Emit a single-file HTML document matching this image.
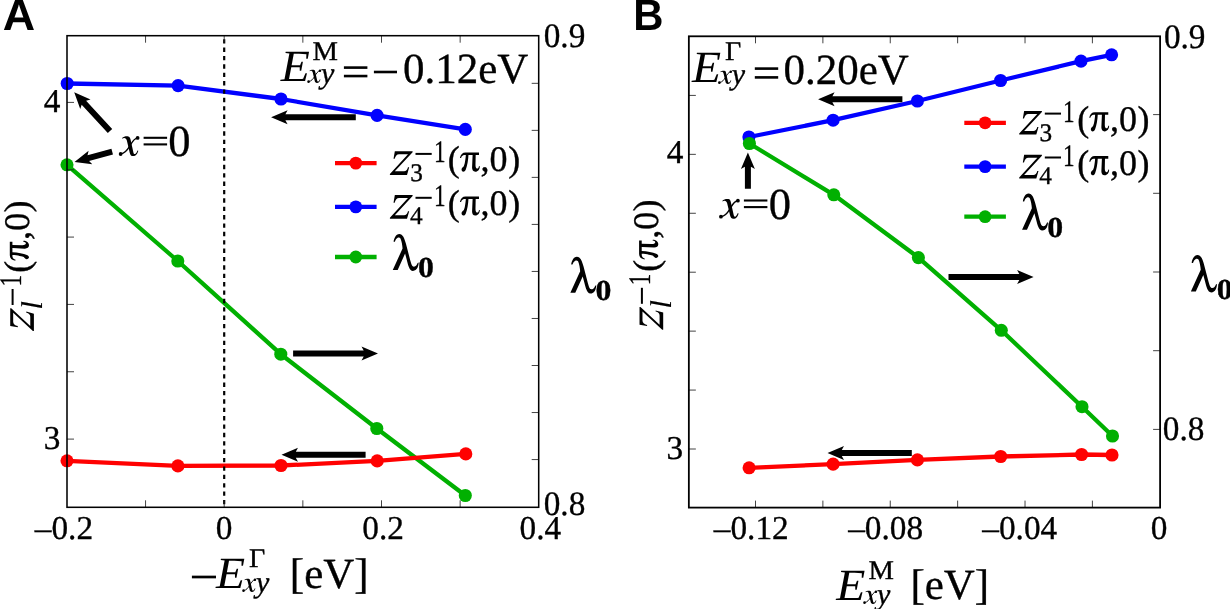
<!DOCTYPE html>
<html><head><meta charset="utf-8"><title>Figure</title>
<style>
html,body{margin:0;padding:0;background:#fff;}
body{width:1230px;height:609px;overflow:hidden;font-family:"Liberation Serif",serif;}
svg{display:block;}
text{fill:#000;stroke:#000;stroke-width:0.35px;text-rendering:geometricPrecision;}
</style></head><body>
<svg width="1230" height="609" viewBox="0 0 1230 609">
<rect x="0" y="0" width="1230" height="609" fill="#fff"/>
<g opacity="0.999">
<polyline points="67.0,164.8 177.8,261.0 280.8,354.2 376.8,428.5 465.3,495.5" fill="none" stroke="#00b000" stroke-width="4.3" stroke-linejoin="round"/>
<circle cx="67.0" cy="164.8" r="6.55" fill="#00b000"/>
<circle cx="177.8" cy="261.0" r="6.55" fill="#00b000"/>
<circle cx="280.8" cy="354.2" r="6.55" fill="#00b000"/>
<circle cx="376.8" cy="428.5" r="6.55" fill="#00b000"/>
<circle cx="465.3" cy="495.5" r="6.55" fill="#00b000"/>
<polyline points="67.0,460.8 177.9,465.9 281.0,465.5 377.2,460.9 465.8,453.9" fill="none" stroke="#ff0000" stroke-width="4.3" stroke-linejoin="round"/>
<circle cx="67.0" cy="460.8" r="6.55" fill="#ff0000"/>
<circle cx="177.9" cy="465.9" r="6.55" fill="#ff0000"/>
<circle cx="281.0" cy="465.5" r="6.55" fill="#ff0000"/>
<circle cx="377.2" cy="460.9" r="6.55" fill="#ff0000"/>
<circle cx="465.8" cy="453.9" r="6.55" fill="#ff0000"/>
<polyline points="67.2,83.5 178.1,85.6 281.0,99.0 377.1,115.4 465.3,129.4" fill="none" stroke="#0000ff" stroke-width="4.3" stroke-linejoin="round"/>
<circle cx="67.2" cy="83.5" r="6.55" fill="#0000ff"/>
<circle cx="178.1" cy="85.6" r="6.55" fill="#0000ff"/>
<circle cx="281.0" cy="99.0" r="6.55" fill="#0000ff"/>
<circle cx="377.1" cy="115.4" r="6.55" fill="#0000ff"/>
<circle cx="465.3" cy="129.4" r="6.55" fill="#0000ff"/>
<line x1="224.20" y1="35.70" x2="224.20" y2="507.30" stroke="#000" stroke-width="2.2" stroke-dasharray="4.3 4.076" stroke-dashoffset="4.876"/>
<line x1="145.55" y1="507.30" x2="145.55" y2="500.30" stroke="#222" stroke-width="0.85" />
<line x1="145.55" y1="35.70" x2="145.55" y2="42.70" stroke="#222" stroke-width="0.85" />
<line x1="224.20" y1="507.30" x2="224.20" y2="500.30" stroke="#222" stroke-width="0.85" />
<line x1="224.20" y1="35.70" x2="224.20" y2="42.70" stroke="#222" stroke-width="0.85" />
<line x1="302.85" y1="507.30" x2="302.85" y2="500.30" stroke="#222" stroke-width="0.85" />
<line x1="302.85" y1="35.70" x2="302.85" y2="42.70" stroke="#222" stroke-width="0.85" />
<line x1="381.50" y1="507.30" x2="381.50" y2="500.30" stroke="#222" stroke-width="0.85" />
<line x1="381.50" y1="35.70" x2="381.50" y2="42.70" stroke="#222" stroke-width="0.85" />
<line x1="460.15" y1="507.30" x2="460.15" y2="500.30" stroke="#222" stroke-width="0.85" />
<line x1="460.15" y1="35.70" x2="460.15" y2="42.70" stroke="#222" stroke-width="0.85" />
<line x1="67.00" y1="102.40" x2="74.00" y2="102.40" stroke="#222" stroke-width="0.85" />
<line x1="67.00" y1="169.74" x2="74.00" y2="169.74" stroke="#222" stroke-width="0.85" />
<line x1="67.00" y1="237.08" x2="74.00" y2="237.08" stroke="#222" stroke-width="0.85" />
<line x1="67.00" y1="304.42" x2="74.00" y2="304.42" stroke="#222" stroke-width="0.85" />
<line x1="67.00" y1="371.76" x2="74.00" y2="371.76" stroke="#222" stroke-width="0.85" />
<line x1="67.00" y1="439.10" x2="74.00" y2="439.10" stroke="#222" stroke-width="0.85" />
<line x1="538.70" y1="83.33" x2="531.70" y2="83.33" stroke="#222" stroke-width="0.85" />
<line x1="538.70" y1="130.36" x2="531.70" y2="130.36" stroke="#222" stroke-width="0.85" />
<line x1="538.70" y1="177.39" x2="531.70" y2="177.39" stroke="#222" stroke-width="0.85" />
<line x1="538.70" y1="224.42" x2="531.70" y2="224.42" stroke="#222" stroke-width="0.85" />
<line x1="538.70" y1="271.45" x2="531.70" y2="271.45" stroke="#222" stroke-width="0.85" />
<line x1="538.70" y1="318.48" x2="531.70" y2="318.48" stroke="#222" stroke-width="0.85" />
<line x1="538.70" y1="365.51" x2="531.70" y2="365.51" stroke="#222" stroke-width="0.85" />
<line x1="538.70" y1="412.54" x2="531.70" y2="412.54" stroke="#222" stroke-width="0.85" />
<line x1="538.70" y1="459.57" x2="531.70" y2="459.57" stroke="#222" stroke-width="0.85" />
<rect x="67.0" y="35.7" width="471.70" height="471.60" fill="none" stroke="#000" stroke-opacity="1" stroke-width="1.55"/>
<polygon points="355.80,114.20 285.40,114.20 287.60,110.20 271.10,117.20 287.60,124.20 285.40,120.20 355.80,120.20" fill="#000"/>
<polygon points="293.10,356.60 363.70,356.60 361.50,360.60 378.00,353.60 361.50,346.60 363.70,350.60 293.10,350.60" fill="#000"/>
<polygon points="365.60,451.80 295.80,451.80 298.00,447.80 281.50,454.80 298.00,461.80 295.80,457.80 365.60,457.80" fill="#000"/>
<polygon points="112.20,128.97 86.10,100.68 90.53,99.58 74.20,92.20 80.24,109.07 81.69,104.74 107.80,133.03" fill="#000"/>
<polygon points="111.42,148.80 87.52,155.27 88.60,150.83 74.50,161.90 92.26,164.35 89.09,161.06 112.98,154.60" fill="#000"/>
<polyline points="749.1,467.8 833.1,464.1 917.4,459.9 1000.7,456.5 1081.6,454.5 1112.0,455.0" fill="none" stroke="#ff0000" stroke-width="4.3" stroke-linejoin="round"/>
<circle cx="749.1" cy="467.8" r="6.55" fill="#ff0000"/>
<circle cx="833.1" cy="464.1" r="6.55" fill="#ff0000"/>
<circle cx="917.4" cy="459.9" r="6.55" fill="#ff0000"/>
<circle cx="1000.7" cy="456.5" r="6.55" fill="#ff0000"/>
<circle cx="1081.6" cy="454.5" r="6.55" fill="#ff0000"/>
<circle cx="1112.0" cy="455.0" r="6.55" fill="#ff0000"/>
<polyline points="748.9,137.0 833.1,120.2 917.4,101.0 1000.6,80.5 1081.0,61.1 1111.6,54.8" fill="none" stroke="#0000ff" stroke-width="4.3" stroke-linejoin="round"/>
<circle cx="748.9" cy="137.0" r="6.55" fill="#0000ff"/>
<circle cx="833.1" cy="120.2" r="6.55" fill="#0000ff"/>
<circle cx="917.4" cy="101.0" r="6.55" fill="#0000ff"/>
<circle cx="1000.6" cy="80.5" r="6.55" fill="#0000ff"/>
<circle cx="1081.0" cy="61.1" r="6.55" fill="#0000ff"/>
<circle cx="1111.6" cy="54.8" r="6.55" fill="#0000ff"/>
<polyline points="749.4,143.5 833.8,194.8 918.4,257.6 1001.3,330.3 1082.0,406.7 1112.5,436.0" fill="none" stroke="#00b000" stroke-width="4.3" stroke-linejoin="round"/>
<circle cx="749.4" cy="143.5" r="6.55" fill="#00b000"/>
<circle cx="833.8" cy="194.8" r="6.55" fill="#00b000"/>
<circle cx="918.4" cy="257.6" r="6.55" fill="#00b000"/>
<circle cx="1001.3" cy="330.3" r="6.55" fill="#00b000"/>
<circle cx="1082.0" cy="406.7" r="6.55" fill="#00b000"/>
<circle cx="1112.5" cy="436.0" r="6.55" fill="#00b000"/>
<line x1="755.50" y1="507.60" x2="755.50" y2="500.60" stroke="#222" stroke-width="0.85" />
<line x1="755.50" y1="36.30" x2="755.50" y2="43.30" stroke="#222" stroke-width="0.85" />
<line x1="822.88" y1="507.60" x2="822.88" y2="500.60" stroke="#222" stroke-width="0.85" />
<line x1="822.88" y1="36.30" x2="822.88" y2="43.30" stroke="#222" stroke-width="0.85" />
<line x1="890.26" y1="507.60" x2="890.26" y2="500.60" stroke="#222" stroke-width="0.85" />
<line x1="890.26" y1="36.30" x2="890.26" y2="43.30" stroke="#222" stroke-width="0.85" />
<line x1="957.64" y1="507.60" x2="957.64" y2="500.60" stroke="#222" stroke-width="0.85" />
<line x1="957.64" y1="36.30" x2="957.64" y2="43.30" stroke="#222" stroke-width="0.85" />
<line x1="1025.02" y1="507.60" x2="1025.02" y2="500.60" stroke="#222" stroke-width="0.85" />
<line x1="1025.02" y1="36.30" x2="1025.02" y2="43.30" stroke="#222" stroke-width="0.85" />
<line x1="1092.40" y1="507.60" x2="1092.40" y2="500.60" stroke="#222" stroke-width="0.85" />
<line x1="1092.40" y1="36.30" x2="1092.40" y2="43.30" stroke="#222" stroke-width="0.85" />
<line x1="688.85" y1="95.42" x2="695.85" y2="95.42" stroke="#222" stroke-width="0.85" />
<line x1="688.85" y1="154.35" x2="695.85" y2="154.35" stroke="#222" stroke-width="0.85" />
<line x1="688.85" y1="213.28" x2="695.85" y2="213.28" stroke="#222" stroke-width="0.85" />
<line x1="688.85" y1="272.21" x2="695.85" y2="272.21" stroke="#222" stroke-width="0.85" />
<line x1="688.85" y1="331.14" x2="695.85" y2="331.14" stroke="#222" stroke-width="0.85" />
<line x1="688.85" y1="390.07" x2="695.85" y2="390.07" stroke="#222" stroke-width="0.85" />
<line x1="688.85" y1="449.00" x2="695.85" y2="449.00" stroke="#222" stroke-width="0.85" />
<line x1="1160.10" y1="114.60" x2="1153.10" y2="114.60" stroke="#222" stroke-width="0.85" />
<line x1="1160.10" y1="193.30" x2="1153.10" y2="193.30" stroke="#222" stroke-width="0.85" />
<line x1="1160.10" y1="272.00" x2="1153.10" y2="272.00" stroke="#222" stroke-width="0.85" />
<line x1="1160.10" y1="350.70" x2="1153.10" y2="350.70" stroke="#222" stroke-width="0.85" />
<line x1="1160.10" y1="429.40" x2="1153.10" y2="429.40" stroke="#222" stroke-width="0.85" />
<rect x="688.85" y="36.3" width="471.25" height="471.30" fill="none" stroke="#000" stroke-opacity="1" stroke-width="1.8"/>
<polygon points="902.40,96.30 832.40,96.30 834.60,92.30 818.10,99.30 834.60,106.30 832.40,102.30 902.40,102.30" fill="#000"/>
<polygon points="948.50,279.90 1019.30,279.90 1017.10,283.90 1033.60,276.90 1017.10,269.90 1019.30,273.90 948.50,273.90" fill="#000"/>
<polygon points="911.80,450.00 841.80,450.00 844.00,446.00 827.50,453.00 844.00,460.00 841.80,456.00 911.80,456.00" fill="#000"/>
<polygon points="750.90,188.80 750.90,166.70 754.90,168.90 747.90,152.40 740.90,168.90 744.90,166.70 744.90,188.80" fill="#000"/>
<text id="A" transform="translate(2.83,30.00) scale(1.02,1)" style='font-family:"Liberation Sans", sans-serif;font-size:44px;font-weight:bold;stroke-width:0px;'>A</text>
<text id="B" transform="translate(633.15,30.00) scale(0.95,1)" style='font-family:"Liberation Sans", sans-serif;font-size:44px;font-weight:bold;stroke-width:0px;'>B</text>
<text id="a4" transform="translate(43.63,112.00)" style='font-family:"Liberation Serif", serif;font-size:33.3px;'>4</text>
<text id="a3" transform="translate(43.82,449.00)" style='font-family:"Liberation Serif", serif;font-size:33.3px;'>3</text>
<text id="ax1" transform="translate(34.80,539.00)" style='font-family:"Liberation Serif", serif;font-size:33.3px;'>–0.2</text>
<text id="ax2" transform="translate(215.85,539.00)" style='font-family:"Liberation Serif", serif;font-size:33.3px;'>0</text>
<text id="ax3" transform="translate(362.30,539.00)" style='font-family:"Liberation Serif", serif;font-size:33.3px;'>0.2</text>
<text id="ax4" transform="translate(519.50,539.00)" style='font-family:"Liberation Serif", serif;font-size:33.3px;'>0.4</text>
<text id="a09" transform="translate(543.68,47.00) scale(0.97,1)" style='font-family:"Liberation Serif", serif;font-size:34.3px;'>0.9</text>
<text id="a08" transform="translate(543.73,515.00) scale(0.97,1)" style='font-family:"Liberation Serif", serif;font-size:34.3px;'>0.8</text>
<text id="b4" transform="translate(666.81,163.00)" style='font-family:"Liberation Serif", serif;font-size:33.3px;'>4</text>
<text id="b3" transform="translate(666.38,459.00)" style='font-family:"Liberation Serif", serif;font-size:33.3px;'>3</text>
<text id="bx1" transform="translate(713.81,539.00)" style='font-family:"Liberation Serif", serif;font-size:33.3px;'>–0.12</text>
<text id="bx2" transform="translate(848.18,539.00)" style='font-family:"Liberation Serif", serif;font-size:33.3px;'>–0.08</text>
<text id="bx3" transform="translate(982.29,539.00)" style='font-family:"Liberation Serif", serif;font-size:33.3px;'>–0.04</text>
<text id="bx4" transform="translate(1150.76,539.00)" style='font-family:"Liberation Serif", serif;font-size:33.3px;'>0</text>
<text id="b09" transform="translate(1163.90,48.00) scale(0.97,1)" style='font-family:"Liberation Serif", serif;font-size:34.3px;'>0.9</text>
<text id="b08" transform="translate(1162.78,440.00) scale(0.97,1)" style='font-family:"Liberation Serif", serif;font-size:34.3px;'>0.8</text>
<text id="aaE" transform="translate(280.63,81.00) scale(1.07,1)" style='font-family:"Liberation Serif", serif;font-size:44.5px;font-style:italic;stroke-width:0px;'>E</text>
<text id="aasup" transform="translate(312.44,60.00) scale(1.06,1)" style='font-family:"Liberation Serif", serif;font-size:27px;'>M</text>
<g transform="translate(307.32,83.20) scale(0.6742)"><path d="M3.31,-18.34 C4.62,-19.65 6.99,-20.18 9.35,-19.92 C10.67,-19.92 11.46,-18.60 11.82,-16.50 L14.61,-3.89 C14.98,-2.31 15.66,-1.89 16.45,-2.42 C17.50,-3.26 18.29,-4.68 18.65,-5.89 L19.50,-5.57 C18.81,-2.84 16.97,-0.21 14.35,-0.21 C12.24,-0.21 11.30,-1.79 10.93,-3.63 L8.04,-15.71 C7.62,-17.55 6.73,-18.34 5.41,-18.34 C4.62,-18.34 3.94,-17.97 3.57,-17.55 Z" fill="#000"/><path d="M18.65,-18.18 C15.13,-18.34 13.03,-13.61 10.93,-10.19 C8.67,-6.52 6.20,-2.94 2.26,-2.42" fill="none" stroke="#000" stroke-width="1.4" stroke-linecap="round"/><circle cx="18.81" cy="-18.34" r="1.9" fill="#000"/><circle cx="1.84" cy="-2.31" r="1.9" fill="#000"/></g>
<text id="aasub" transform="translate(320.97,83.00)" style='font-family:"Liberation Serif", serif;font-size:30px;font-style:italic;'>y</text>
<rect x="343.90" y="66.30" width="23.50" height="2.60" fill="#000"/>
<rect x="343.90" y="74.75" width="23.50" height="2.60" fill="#000"/>
<rect x="373.90" y="70.70" width="23.10" height="2.60" fill="#000"/>
<text id="aanum" transform="translate(402.97,83.00)" style='font-family:"Liberation Serif", serif;font-size:43px;'>0.12eV</text>
<text id="baE" transform="translate(692.08,82.00) scale(1.07,1)" style='font-family:"Liberation Serif", serif;font-size:44.5px;font-style:italic;stroke-width:0px;'>E</text>
<text id="basup" transform="translate(724.99,60.00) scale(1.04,1)" style='font-family:"Liberation Serif", serif;font-size:27px;'>Γ</text>
<g transform="translate(718.12,84.20) scale(0.6742)"><path d="M3.31,-18.34 C4.62,-19.65 6.99,-20.18 9.35,-19.92 C10.67,-19.92 11.46,-18.60 11.82,-16.50 L14.61,-3.89 C14.98,-2.31 15.66,-1.89 16.45,-2.42 C17.50,-3.26 18.29,-4.68 18.65,-5.89 L19.50,-5.57 C18.81,-2.84 16.97,-0.21 14.35,-0.21 C12.24,-0.21 11.30,-1.79 10.93,-3.63 L8.04,-15.71 C7.62,-17.55 6.73,-18.34 5.41,-18.34 C4.62,-18.34 3.94,-17.97 3.57,-17.55 Z" fill="#000"/><path d="M18.65,-18.18 C15.13,-18.34 13.03,-13.61 10.93,-10.19 C8.67,-6.52 6.20,-2.94 2.26,-2.42" fill="none" stroke="#000" stroke-width="1.4" stroke-linecap="round"/><circle cx="18.81" cy="-18.34" r="1.9" fill="#000"/><circle cx="1.84" cy="-2.31" r="1.9" fill="#000"/></g>
<text id="basub" transform="translate(731.77,84.00)" style='font-family:"Liberation Serif", serif;font-size:30px;font-style:italic;'>y</text>
<rect x="754.80" y="67.30" width="23.40" height="2.60" fill="#000"/>
<rect x="754.80" y="76.10" width="23.40" height="2.60" fill="#000"/>
<text id="banum" transform="translate(783.39,84.00)" style='font-family:"Liberation Serif", serif;font-size:43px;'>0.20eV</text>
<g transform="translate(118.80,156.30) scale(1.0000)"><path d="M3.31,-18.34 C4.62,-19.65 6.99,-20.18 9.35,-19.92 C10.67,-19.92 11.46,-18.60 11.82,-16.50 L14.61,-3.89 C14.98,-2.31 15.66,-1.89 16.45,-2.42 C17.50,-3.26 18.29,-4.68 18.65,-5.89 L19.50,-5.57 C18.81,-2.84 16.97,-0.21 14.35,-0.21 C12.24,-0.21 11.30,-1.79 10.93,-3.63 L8.04,-15.71 C7.62,-17.55 6.73,-18.34 5.41,-18.34 C4.62,-18.34 3.94,-17.97 3.57,-17.55 Z" fill="#000"/><path d="M18.65,-18.18 C15.13,-18.34 13.03,-13.61 10.93,-10.19 C8.67,-6.52 6.20,-2.94 2.26,-2.42" fill="none" stroke="#000" stroke-width="1.4" stroke-linecap="round"/><circle cx="18.81" cy="-18.34" r="1.9" fill="#000"/><circle cx="1.84" cy="-2.31" r="1.9" fill="#000"/></g>
<rect x="143.60" y="136.75" width="23.50" height="2.10" fill="#000"/>
<rect x="143.60" y="143.35" width="23.50" height="2.10" fill="#000"/>
<text id="ax00" transform="translate(168.37,156.00)" style='font-family:"Liberation Serif", serif;font-size:44.5px;'>0</text>
<g transform="translate(719.10,219.00) scale(1.0000)"><path d="M3.31,-18.34 C4.62,-19.65 6.99,-20.18 9.35,-19.92 C10.67,-19.92 11.46,-18.60 11.82,-16.50 L14.61,-3.89 C14.98,-2.31 15.66,-1.89 16.45,-2.42 C17.50,-3.26 18.29,-4.68 18.65,-5.89 L19.50,-5.57 C18.81,-2.84 16.97,-0.21 14.35,-0.21 C12.24,-0.21 11.30,-1.79 10.93,-3.63 L8.04,-15.71 C7.62,-17.55 6.73,-18.34 5.41,-18.34 C4.62,-18.34 3.94,-17.97 3.57,-17.55 Z" fill="#000"/><path d="M18.65,-18.18 C15.13,-18.34 13.03,-13.61 10.93,-10.19 C8.67,-6.52 6.20,-2.94 2.26,-2.42" fill="none" stroke="#000" stroke-width="1.4" stroke-linecap="round"/><circle cx="18.81" cy="-18.34" r="1.9" fill="#000"/><circle cx="1.84" cy="-2.31" r="1.9" fill="#000"/></g>
<rect x="743.90" y="199.45" width="23.50" height="2.10" fill="#000"/>
<rect x="743.90" y="206.05" width="23.50" height="2.10" fill="#000"/>
<text id="bx00" transform="translate(768.84,219.00)" style='font-family:"Liberation Serif", serif;font-size:44.5px;'>0</text>
<line x1="335.00" y1="163.10" x2="376.60" y2="163.10" stroke="#ff0000" stroke-width="4.3" />
<circle cx="355.8" cy="163.1" r="6.4" fill="#ff0000"/>
<line x1="335.00" y1="206.90" x2="376.60" y2="206.90" stroke="#0000ff" stroke-width="4.3" />
<circle cx="355.8" cy="206.9" r="6.4" fill="#0000ff"/>
<line x1="335.00" y1="257.00" x2="376.60" y2="257.00" stroke="#00b000" stroke-width="4.3" />
<circle cx="355.8" cy="257.0" r="6.4" fill="#00b000"/>
<path transform="translate(389.90,174.90)" d="M4.93,-23.68 L22.70,-23.68 L22.70,-22.70 L4.93,-3.62 L14.14,-3.62 C16.12,-3.62 17.43,-4.93 18.09,-7.57 L19.28,-7.57 L17.11,0.00 L0.00,0.00 L0.00,-0.99 L18.09,-20.72 L9.21,-20.72 C6.91,-20.72 5.59,-19.08 4.80,-16.12 L3.62,-16.12 Z" fill="#000"/>
<text id="al0sub" transform="translate(410.23,181.00)" style='font-family:"Liberation Serif", serif;font-size:25.3px;'>3</text>
<rect x="415.50" y="152.90" width="16.20" height="2.00" fill="#000"/>
<text id="al0one" transform="translate(433.91,162.00) scale(0.74,1)" style='font-family:"Liberation Serif", serif;font-size:31.3px;'>1</text>
<text id="al0p0" transform="translate(447.87,171.00)" style='font-family:"Liberation Serif", serif;font-size:36px;'>(</text>
<path transform="translate(459.90,171.70)" d="M0.00,-13.62 C0.66,-17.24 2.63,-19.21 5.59,-19.21 L19.08,-19.21 L19.08,-16.58 L15.79,-16.58 L15.59,-6.71 C15.59,-4.08 16.45,-3.09 17.43,-3.09 C18.42,-3.09 18.88,-4.41 19.08,-5.72 L19.93,-5.53 C19.93,-2.43 18.09,0.00 15.46,0.00 C13.16,0.00 12.17,-1.78 12.17,-4.08 L12.70,-16.58 L8.55,-16.58 C8.36,-11.32 7.24,-5.39 5.92,-2.11 C5.26,-0.46 4.28,0.00 3.49,0.00 C2.30,0.00 1.64,-1.12 1.64,-2.24 C1.64,-3.75 2.96,-4.41 3.75,-5.26 C4.61,-6.38 5.59,-11.32 5.92,-16.58 L4.61,-16.58 C2.63,-16.45 1.64,-15.26 1.18,-13.62 Z" fill="#000"/>
<text id="al0p2" transform="translate(480.41,171.00)" style='font-family:"Liberation Serif", serif;font-size:36px;'>,</text>
<text id="al0p3" transform="translate(489.59,171.00)" style='font-family:"Liberation Serif", serif;font-size:36px;'>0</text>
<text id="al0p4" transform="translate(508.19,171.00)" style='font-family:"Liberation Serif", serif;font-size:36px;'>)</text>
<path transform="translate(389.90,218.80)" d="M4.93,-23.68 L22.70,-23.68 L22.70,-22.70 L4.93,-3.62 L14.14,-3.62 C16.12,-3.62 17.43,-4.93 18.09,-7.57 L19.28,-7.57 L17.11,0.00 L0.00,0.00 L0.00,-0.99 L18.09,-20.72 L9.21,-20.72 C6.91,-20.72 5.59,-19.08 4.80,-16.12 L3.62,-16.12 Z" fill="#000"/>
<text id="al1sub" transform="translate(409.88,224.00)" style='font-family:"Liberation Serif", serif;font-size:25.3px;'>4</text>
<rect x="415.50" y="196.80" width="16.20" height="2.00" fill="#000"/>
<text id="al1one" transform="translate(433.91,206.00) scale(0.74,1)" style='font-family:"Liberation Serif", serif;font-size:31.3px;'>1</text>
<text id="al1p0" transform="translate(447.87,215.00)" style='font-family:"Liberation Serif", serif;font-size:36px;'>(</text>
<path transform="translate(459.90,215.60)" d="M0.00,-13.62 C0.66,-17.24 2.63,-19.21 5.59,-19.21 L19.08,-19.21 L19.08,-16.58 L15.79,-16.58 L15.59,-6.71 C15.59,-4.08 16.45,-3.09 17.43,-3.09 C18.42,-3.09 18.88,-4.41 19.08,-5.72 L19.93,-5.53 C19.93,-2.43 18.09,0.00 15.46,0.00 C13.16,0.00 12.17,-1.78 12.17,-4.08 L12.70,-16.58 L8.55,-16.58 C8.36,-11.32 7.24,-5.39 5.92,-2.11 C5.26,-0.46 4.28,0.00 3.49,0.00 C2.30,0.00 1.64,-1.12 1.64,-2.24 C1.64,-3.75 2.96,-4.41 3.75,-5.26 C4.61,-6.38 5.59,-11.32 5.92,-16.58 L4.61,-16.58 C2.63,-16.45 1.64,-15.26 1.18,-13.62 Z" fill="#000"/>
<text id="al1p2" transform="translate(480.41,215.00)" style='font-family:"Liberation Serif", serif;font-size:36px;'>,</text>
<text id="al1p3" transform="translate(489.59,215.00)" style='font-family:"Liberation Serif", serif;font-size:36px;'>0</text>
<text id="al1p4" transform="translate(508.19,215.00)" style='font-family:"Liberation Serif", serif;font-size:36px;'>)</text>
<path d="M393.60,241.73 C393.90,238.47 395.89,233.90 399.27,233.90 C402.86,233.90 404.45,238.17 405.95,243.66 L410.23,260.13 C411.23,263.89 412.22,266.63 413.92,266.63 C415.81,266.63 417.01,264.60 417.60,262.97 L418.70,262.56 C418.60,265.92 417.21,270.90 412.92,270.90 C409.44,270.90 408.24,265.41 406.85,260.13 L405.10,253.62 L397.68,270.09 L392.75,270.09 L402.56,248.44 C402.36,245.59 401.67,241.02 400.47,238.47 C399.87,237.36 398.48,237.36 397.68,237.76 C396.29,238.47 395.49,240.00 394.89,241.73 Z" fill="#000"/>
<text id="allam0" transform="translate(418.10,277.00) scale(1.09,1)" style='font-family:"Liberation Serif", serif;font-size:29.2px;font-weight:bold;'>0</text>
<line x1="964.30" y1="122.80" x2="1005.90" y2="122.80" stroke="#ff0000" stroke-width="4.3" />
<circle cx="985.1" cy="122.8" r="6.4" fill="#ff0000"/>
<line x1="964.30" y1="166.60" x2="1005.90" y2="166.60" stroke="#0000ff" stroke-width="4.3" />
<circle cx="985.1" cy="166.6" r="6.4" fill="#0000ff"/>
<line x1="964.30" y1="216.70" x2="1005.90" y2="216.70" stroke="#00b000" stroke-width="4.3" />
<circle cx="985.1" cy="216.7" r="6.4" fill="#00b000"/>
<path transform="translate(1019.20,134.60)" d="M4.93,-23.68 L22.70,-23.68 L22.70,-22.70 L4.93,-3.62 L14.14,-3.62 C16.12,-3.62 17.43,-4.93 18.09,-7.57 L19.28,-7.57 L17.11,0.00 L0.00,0.00 L0.00,-0.99 L18.09,-20.72 L9.21,-20.72 C6.91,-20.72 5.59,-19.08 4.80,-16.12 L3.62,-16.12 Z" fill="#000"/>
<text id="bl0sub" transform="translate(1039.54,141.00)" style='font-family:"Liberation Serif", serif;font-size:25.3px;'>3</text>
<rect x="1044.80" y="112.60" width="16.20" height="2.00" fill="#000"/>
<text id="bl0one" transform="translate(1062.95,122.00) scale(0.74,1)" style='font-family:"Liberation Serif", serif;font-size:31.3px;'>1</text>
<text id="bl0p0" transform="translate(1077.28,131.00)" style='font-family:"Liberation Serif", serif;font-size:36px;'>(</text>
<path transform="translate(1089.20,131.40)" d="M0.00,-13.62 C0.66,-17.24 2.63,-19.21 5.59,-19.21 L19.08,-19.21 L19.08,-16.58 L15.79,-16.58 L15.59,-6.71 C15.59,-4.08 16.45,-3.09 17.43,-3.09 C18.42,-3.09 18.88,-4.41 19.08,-5.72 L19.93,-5.53 C19.93,-2.43 18.09,0.00 15.46,0.00 C13.16,0.00 12.17,-1.78 12.17,-4.08 L12.70,-16.58 L8.55,-16.58 C8.36,-11.32 7.24,-5.39 5.92,-2.11 C5.26,-0.46 4.28,0.00 3.49,0.00 C2.30,0.00 1.64,-1.12 1.64,-2.24 C1.64,-3.75 2.96,-4.41 3.75,-5.26 C4.61,-6.38 5.59,-11.32 5.92,-16.58 L4.61,-16.58 C2.63,-16.45 1.64,-15.26 1.18,-13.62 Z" fill="#000"/>
<text id="bl0p2" transform="translate(1110.10,131.00)" style='font-family:"Liberation Serif", serif;font-size:36px;'>,</text>
<text id="bl0p3" transform="translate(1119.12,131.00)" style='font-family:"Liberation Serif", serif;font-size:36px;'>0</text>
<text id="bl0p4" transform="translate(1137.45,131.00)" style='font-family:"Liberation Serif", serif;font-size:36px;'>)</text>
<path transform="translate(1019.20,178.50)" d="M4.93,-23.68 L22.70,-23.68 L22.70,-22.70 L4.93,-3.62 L14.14,-3.62 C16.12,-3.62 17.43,-4.93 18.09,-7.57 L19.28,-7.57 L17.11,0.00 L0.00,0.00 L0.00,-0.99 L18.09,-20.72 L9.21,-20.72 C6.91,-20.72 5.59,-19.08 4.80,-16.12 L3.62,-16.12 Z" fill="#000"/>
<text id="bl1sub" transform="translate(1039.17,184.00)" style='font-family:"Liberation Serif", serif;font-size:25.3px;'>4</text>
<rect x="1044.80" y="156.50" width="16.20" height="2.00" fill="#000"/>
<text id="bl1one" transform="translate(1062.95,166.00) scale(0.74,1)" style='font-family:"Liberation Serif", serif;font-size:31.3px;'>1</text>
<text id="bl1p0" transform="translate(1077.28,175.00)" style='font-family:"Liberation Serif", serif;font-size:36px;'>(</text>
<path transform="translate(1089.20,175.30)" d="M0.00,-13.62 C0.66,-17.24 2.63,-19.21 5.59,-19.21 L19.08,-19.21 L19.08,-16.58 L15.79,-16.58 L15.59,-6.71 C15.59,-4.08 16.45,-3.09 17.43,-3.09 C18.42,-3.09 18.88,-4.41 19.08,-5.72 L19.93,-5.53 C19.93,-2.43 18.09,0.00 15.46,0.00 C13.16,0.00 12.17,-1.78 12.17,-4.08 L12.70,-16.58 L8.55,-16.58 C8.36,-11.32 7.24,-5.39 5.92,-2.11 C5.26,-0.46 4.28,0.00 3.49,0.00 C2.30,0.00 1.64,-1.12 1.64,-2.24 C1.64,-3.75 2.96,-4.41 3.75,-5.26 C4.61,-6.38 5.59,-11.32 5.92,-16.58 L4.61,-16.58 C2.63,-16.45 1.64,-15.26 1.18,-13.62 Z" fill="#000"/>
<text id="bl1p2" transform="translate(1110.10,175.00)" style='font-family:"Liberation Serif", serif;font-size:36px;'>,</text>
<text id="bl1p3" transform="translate(1119.12,175.00)" style='font-family:"Liberation Serif", serif;font-size:36px;'>0</text>
<text id="bl1p4" transform="translate(1137.45,175.00)" style='font-family:"Liberation Serif", serif;font-size:36px;'>)</text>
<path d="M1022.90,201.43 C1023.20,198.17 1025.19,193.60 1028.57,193.60 C1032.16,193.60 1033.75,197.87 1035.25,203.36 L1039.53,219.83 C1040.53,223.59 1041.52,226.33 1043.22,226.33 C1045.11,226.33 1046.31,224.30 1046.90,222.67 L1048.00,222.26 C1047.90,225.62 1046.51,230.60 1042.22,230.60 C1038.74,230.60 1037.54,225.11 1036.15,219.83 L1034.40,213.32 L1026.98,229.79 L1022.05,229.79 L1031.86,208.14 C1031.66,205.29 1030.97,200.72 1029.77,198.17 C1029.17,197.06 1027.78,197.06 1026.98,197.46 C1025.59,198.17 1024.79,199.70 1024.19,201.43 Z" fill="#000"/>
<text id="bllam0" transform="translate(1047.29,237.00) scale(1.09,1)" style='font-family:"Liberation Serif", serif;font-size:29.2px;font-weight:bold;'>0</text>
<path d="M571.20,264.58 C571.50,261.35 573.49,256.80 576.87,256.80 C580.46,256.80 582.05,261.05 583.55,266.51 L587.83,282.88 C588.83,286.62 589.82,289.35 591.52,289.35 C593.41,289.35 594.61,287.33 595.20,285.71 L596.30,285.31 C596.20,288.65 594.81,293.60 590.52,293.60 C587.04,293.60 585.84,288.14 584.45,282.88 L582.70,276.41 L575.28,292.79 L570.35,292.79 L580.16,271.26 C579.96,268.43 579.27,263.88 578.07,261.35 C577.47,260.24 576.08,260.24 575.28,260.64 C573.89,261.35 573.09,262.87 572.49,264.58 Z" fill="#000"/>
<text id="arlam0" transform="translate(595.48,300.00) scale(1.09,1)" style='font-family:"Liberation Serif", serif;font-size:29.2px;font-weight:bold;'>0</text>
<path d="M1191.70,262.99 C1192.00,259.71 1194.01,255.10 1197.43,255.10 C1201.04,255.10 1202.65,259.40 1204.15,264.94 L1208.47,281.54 C1209.47,285.33 1210.48,288.10 1212.18,288.10 C1214.09,288.10 1215.29,286.05 1215.90,284.41 L1217.00,284.00 C1216.90,287.38 1215.49,292.40 1211.18,292.40 C1207.66,292.40 1206.46,286.87 1205.05,281.54 L1203.30,274.98 L1195.82,291.58 L1190.85,291.58 L1200.74,269.75 C1200.54,266.88 1199.83,262.27 1198.63,259.71 C1198.03,258.58 1196.62,258.58 1195.82,258.99 C1194.41,259.71 1193.61,261.25 1193.01,262.99 Z" fill="#000"/>
<text id="brlam0" transform="translate(1216.86,299.00) scale(1.09,1)" style='font-family:"Liberation Serif", serif;font-size:29.2px;font-weight:bold;'>0</text>
<text id="ayp0" transform="translate(29.00,272.63) rotate(-90)" style='font-family:"Liberation Serif", serif;font-size:36px;'>(</text>
<path transform="translate(29.00,260.80) rotate(-90)" d="M0.00,-13.62 C0.66,-17.24 2.63,-19.21 5.59,-19.21 L19.08,-19.21 L19.08,-16.58 L15.79,-16.58 L15.59,-6.71 C15.59,-4.08 16.45,-3.09 17.43,-3.09 C18.42,-3.09 18.88,-4.41 19.08,-5.72 L19.93,-5.53 C19.93,-2.43 18.09,0.00 15.46,0.00 C13.16,0.00 12.17,-1.78 12.17,-4.08 L12.70,-16.58 L8.55,-16.58 C8.36,-11.32 7.24,-5.39 5.92,-2.11 C5.26,-0.46 4.28,0.00 3.49,0.00 C2.30,0.00 1.64,-1.12 1.64,-2.24 C1.64,-3.75 2.96,-4.41 3.75,-5.26 C4.61,-6.38 5.59,-11.32 5.92,-16.58 L4.61,-16.58 C2.63,-16.45 1.64,-15.26 1.18,-13.62 Z" fill="#000"/>
<text id="ayp2" transform="translate(29.00,240.08) rotate(-90)" style='font-family:"Liberation Serif", serif;font-size:36px;'>,</text>
<text id="ayp3" transform="translate(29.00,230.66) rotate(-90)" style='font-family:"Liberation Serif", serif;font-size:36px;'>0</text>
<text id="ayp4" transform="translate(29.00,212.42) rotate(-90)" style='font-family:"Liberation Serif", serif;font-size:36px;'>)</text>
<text id="ayone" transform="translate(21.00,286.54) rotate(-90) scale(0.74,1)" style='font-family:"Liberation Serif", serif;font-size:31.3px;'>1</text>
<rect x="11.60" y="289.00" width="2.00" height="16.00" fill="#000"/>
<text id="ayl" transform="translate(42.00,309.50) rotate(-90) scale(1.0,1)" style='font-family:"Liberation Serif", serif;font-size:30px;font-style:italic;stroke-width:0.1px;'>l</text>
<path transform="translate(33.90,330.90) rotate(-90)" d="M4.93,-23.68 L22.70,-23.68 L22.70,-22.70 L4.93,-3.62 L14.14,-3.62 C16.12,-3.62 17.43,-4.93 18.09,-7.57 L19.28,-7.57 L17.11,0.00 L0.00,0.00 L0.00,-0.99 L18.09,-20.72 L9.21,-20.72 C6.91,-20.72 5.59,-19.08 4.80,-16.12 L3.62,-16.12 Z" fill="#000"/>
<text id="byp0" transform="translate(658.00,271.63) rotate(-90)" style='font-family:"Liberation Serif", serif;font-size:36px;'>(</text>
<path transform="translate(658.30,259.60) rotate(-90)" d="M0.00,-13.62 C0.66,-17.24 2.63,-19.21 5.59,-19.21 L19.08,-19.21 L19.08,-16.58 L15.79,-16.58 L15.59,-6.71 C15.59,-4.08 16.45,-3.09 17.43,-3.09 C18.42,-3.09 18.88,-4.41 19.08,-5.72 L19.93,-5.53 C19.93,-2.43 18.09,0.00 15.46,0.00 C13.16,0.00 12.17,-1.78 12.17,-4.08 L12.70,-16.58 L8.55,-16.58 C8.36,-11.32 7.24,-5.39 5.92,-2.11 C5.26,-0.46 4.28,0.00 3.49,0.00 C2.30,0.00 1.64,-1.12 1.64,-2.24 C1.64,-3.75 2.96,-4.41 3.75,-5.26 C4.61,-6.38 5.59,-11.32 5.92,-16.58 L4.61,-16.58 C2.63,-16.45 1.64,-15.26 1.18,-13.62 Z" fill="#000"/>
<text id="byp2" transform="translate(658.00,238.78) rotate(-90)" style='font-family:"Liberation Serif", serif;font-size:36px;'>,</text>
<text id="byp3" transform="translate(658.00,229.64) rotate(-90)" style='font-family:"Liberation Serif", serif;font-size:36px;'>0</text>
<text id="byp4" transform="translate(658.00,211.40) rotate(-90)" style='font-family:"Liberation Serif", serif;font-size:36px;'>)</text>
<text id="byone" transform="translate(650.00,285.18) rotate(-90) scale(0.74,1)" style='font-family:"Liberation Serif", serif;font-size:31.3px;'>1</text>
<rect x="640.90" y="287.80" width="2.00" height="16.00" fill="#000"/>
<text id="byl" transform="translate(671.00,308.53) rotate(-90) scale(1.0,1)" style='font-family:"Liberation Serif", serif;font-size:30px;font-style:italic;stroke-width:0.1px;'>l</text>
<path transform="translate(663.20,329.70) rotate(-90)" d="M4.93,-23.68 L22.70,-23.68 L22.70,-22.70 L4.93,-3.62 L14.14,-3.62 C16.12,-3.62 17.43,-4.93 18.09,-7.57 L19.28,-7.57 L17.11,0.00 L0.00,0.00 L0.00,-0.99 L18.09,-20.72 L9.21,-20.72 C6.91,-20.72 5.59,-19.08 4.80,-16.12 L3.62,-16.12 Z" fill="#000"/>
<rect x="191.90" y="575.65" width="24.10" height="2.70" fill="#000"/>
<text id="axlE" transform="translate(216.07,588.00) scale(1.07,1)" style='font-family:"Liberation Serif", serif;font-size:44.5px;font-style:italic;stroke-width:0px;'>E</text>
<text id="axlsup" transform="translate(249.00,567.00) scale(1.04,1)" style='font-family:"Liberation Serif", serif;font-size:27px;'>Γ</text>
<g transform="translate(242.27,592.20) scale(0.6742)"><path d="M3.31,-18.34 C4.62,-19.65 6.99,-20.18 9.35,-19.92 C10.67,-19.92 11.46,-18.60 11.82,-16.50 L14.61,-3.89 C14.98,-2.31 15.66,-1.89 16.45,-2.42 C17.50,-3.26 18.29,-4.68 18.65,-5.89 L19.50,-5.57 C18.81,-2.84 16.97,-0.21 14.35,-0.21 C12.24,-0.21 11.30,-1.79 10.93,-3.63 L8.04,-15.71 C7.62,-17.55 6.73,-18.34 5.41,-18.34 C4.62,-18.34 3.94,-17.97 3.57,-17.55 Z" fill="#000"/><path d="M18.65,-18.18 C15.13,-18.34 13.03,-13.61 10.93,-10.19 C8.67,-6.52 6.20,-2.94 2.26,-2.42" fill="none" stroke="#000" stroke-width="1.4" stroke-linecap="round"/><circle cx="18.81" cy="-18.34" r="1.9" fill="#000"/><circle cx="1.84" cy="-2.31" r="1.9" fill="#000"/></g>
<text id="axlsub" transform="translate(255.92,592.00)" style='font-family:"Liberation Serif", serif;font-size:30px;font-style:italic;'>y</text>
<text id="axlu" transform="translate(289.82,588.00)" style='font-family:"Liberation Serif", serif;font-size:43px;'>[eV]</text>
<text id="bxlE" transform="translate(836.17,600.00) scale(1.07,1)" style='font-family:"Liberation Serif", serif;font-size:44.5px;font-style:italic;stroke-width:0px;'>E</text>
<text id="bxlsup" transform="translate(868.45,579.00) scale(1.06,1)" style='font-family:"Liberation Serif", serif;font-size:27px;'>M</text>
<g transform="translate(863.27,604.20) scale(0.6742)"><path d="M3.31,-18.34 C4.62,-19.65 6.99,-20.18 9.35,-19.92 C10.67,-19.92 11.46,-18.60 11.82,-16.50 L14.61,-3.89 C14.98,-2.31 15.66,-1.89 16.45,-2.42 C17.50,-3.26 18.29,-4.68 18.65,-5.89 L19.50,-5.57 C18.81,-2.84 16.97,-0.21 14.35,-0.21 C12.24,-0.21 11.30,-1.79 10.93,-3.63 L8.04,-15.71 C7.62,-17.55 6.73,-18.34 5.41,-18.34 C4.62,-18.34 3.94,-17.97 3.57,-17.55 Z" fill="#000"/><path d="M18.65,-18.18 C15.13,-18.34 13.03,-13.61 10.93,-10.19 C8.67,-6.52 6.20,-2.94 2.26,-2.42" fill="none" stroke="#000" stroke-width="1.4" stroke-linecap="round"/><circle cx="18.81" cy="-18.34" r="1.9" fill="#000"/><circle cx="1.84" cy="-2.31" r="1.9" fill="#000"/></g>
<text id="bxlsub" transform="translate(876.92,604.00)" style='font-family:"Liberation Serif", serif;font-size:30px;font-style:italic;'>y</text>
<text id="bxlu" transform="translate(910.41,599.00)" style='font-family:"Liberation Serif", serif;font-size:43px;'>[eV]</text>
</g>
</svg>
</body></html>
